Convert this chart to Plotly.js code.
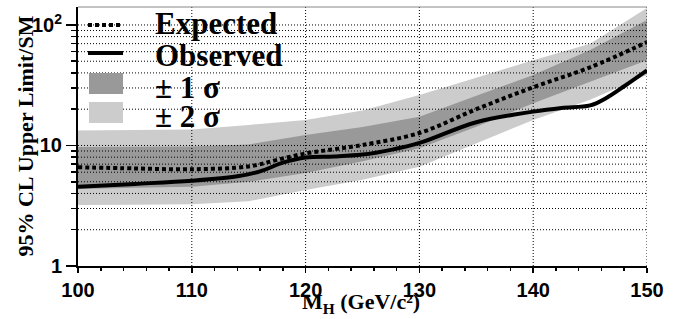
<!DOCTYPE html>
<html>
<head>
<meta charset="utf-8">
<script src="https://cdn.plot.ly/plotly-3.0.1.min.js"></script>
<style>html,body{margin:0;padding:0;background:#fff;}#chart{width:678px;height:319px;}</style>
</head>
<body>
<div id="chart"></div>
<script>
// ---- data ----
var bandMass = [100, 105, 110, 115, 120, 125, 130, 135, 140, 145, 150];
var sigma2Up = [13.3, 13.4, 13.6, 14.8, 16.3, 19.5, 26.2, 36.5, 51, 70, 138];
var sigma1Up = [9.7, 9.7, 9.8, 10.2, 12.2, 14.2, 17.3, 25.8, 38.5, 62, 110];
var sigma1Dn = [4.35, 4.45, 4.55, 5.0, 5.9, 7.4, 9.5, 14.3, 22.4, 33.9, 51];
var sigma2Dn = [3.2, 3.22, 3.25, 3.45, 4.27, 5.2, 6.67, 10.4, 16.3, 23.9, 38.5];

var expMass = [100, 105, 110, 115, 117.5, 120, 122.5, 125, 130, 135, 140, 145, 150];
var expLimit = [6.6, 6.45, 6.35, 6.7, 7.6, 8.6, 9.3, 10.1, 12.7, 20, 30.4, 44.5, 72];

var obsMass = [100, 105, 110, 114, 116, 118, 120, 122.5, 125, 127.5, 130, 135, 140, 142.5, 145, 146.5, 148, 150];
var obsLimit = [4.55, 4.8, 5.1, 5.55, 6.1, 7.2, 7.95, 8.1, 8.4, 9.2, 10.5, 15.6, 19.1, 20.5, 21.5, 25, 31, 42];

var xTickVals = [100, 110, 120, 130, 140, 150];
var xTickText = ['100', '110', '120', '130', '140', '150'];
var yTickVals = [1, 10, 100];
var yTickText = ['1', '10', '10<sup>2</sup>'];
var yMinorVals = [2, 3, 4, 5, 6, 7, 8, 9, 20, 30, 40, 50, 60, 70, 80, 90];
var gridX = [110, 120, 130, 140, 150];
var gridY = [2, 3, 4, 5, 6, 7, 8, 9, 10, 20, 30, 40, 50, 60, 70, 80, 90, 100];
var legendLabels = ['Expected', 'Observed', '\u00B1 1 \u03C3', '\u00B1 2 \u03C3'];
var xTitle = 'M<sub>H</sub> (GeV/c\u00B2)';
var yTitle = '95% CL Upper Limit/SM';

// ---- helpers ----
var xRange = [100, 150];
var yRangeLog = [0, 2.149];
function band(up, dn) {
  return {
    x: bandMass.concat(bandMass.slice().reverse()),
    y: up.concat(dn.slice().reverse())
  };
}
function bold(arr) { return arr.map(function (t) { return '<b>' + t + '</b>'; }); }
var b2 = band(sigma2Up, sigma2Dn);
var b1 = band(sigma1Up, sigma1Dn);

var hx = [], hy = [];
gridY.forEach(function (v) { hx.push(xRange[0], xRange[1], null); hy.push(v, v, null); });
var vx = [], vy = [];
var yLo = Math.pow(10, yRangeLog[0]), yHi = Math.pow(10, yRangeLog[1]);
gridX.forEach(function (v) { vx.push(v, v, null); vy.push(yLo, yHi, null); });

var gridStyle = {color: '#000', width: 1, dash: '1px,2px'};

var traces = [
  {x: b2.x, y: b2.y, type: 'scatter', mode: 'lines', fill: 'toself', fillcolor: '#cccccc',
   line: {width: 0}, name: legendLabels[3], showlegend: false, hoverinfo: 'skip'},
  {x: b1.x, y: b1.y, type: 'scatter', mode: 'lines', fill: 'toself', fillcolor: '#999999',
   line: {width: 0}, name: legendLabels[2], showlegend: false, hoverinfo: 'skip'},
  {x: hx, y: hy, type: 'scatter', mode: 'lines', line: gridStyle, showlegend: false, hoverinfo: 'skip', connectgaps: false},
  {x: vx, y: vy, type: 'scatter', mode: 'lines', line: gridStyle, showlegend: false, hoverinfo: 'skip', connectgaps: false},
  {x: obsMass, y: obsLimit, type: 'scatter', mode: 'lines', name: legendLabels[1],
   line: {color: 'black', width: 4, shape: 'spline', smoothing: 1}, showlegend: false},
  {x: expMass, y: expLimit, type: 'scatter', mode: 'lines', name: legendLabels[0],
   line: {color: 'black', width: 4, dash: '4px,3px', shape: 'spline', smoothing: 1}, showlegend: false}
];

// custom legend and axis titles (positions in paper coordinates)
var legFont = {family: 'Liberation Serif', size: 31, weight: 'bold', color: 'black'};
var titleFont = {family: 'Liberation Serif', size: 22, weight: 'bold', color: 'black'};
var legY = [0.938, 0.811, 0.691, 0.579];
var annotations = legendLabels.map(function (t, i) {
  return {text: '<b>' + t + '</b>', xref: 'paper', yref: 'paper', x: 0.132, y: legY[i], xanchor: 'left', yanchor: 'middle',
          showarrow: false, font: legFont};
});
annotations.push({text: '<b>' + xTitle + '</b>', xref: 'paper', yref: 'paper', x: 0.497, y: -0.203,
                  xanchor: 'center', yanchor: 'bottom', showarrow: false, font: titleFont});
annotations.push({text: '<b>' + yTitle + '</b>', xref: 'paper', yref: 'paper', x: -0.093, y: 0.5, textangle: -90,
                  xanchor: 'center', yanchor: 'middle', showarrow: false, font: titleFont});

var shapes = [
  {type: 'line', xref: 'paper', yref: 'paper', x0: 0, x1: 1, y0: 1, y1: 1, line: {color: '#888', width: 1}},
  {type: 'line', xref: 'paper', yref: 'paper', x0: 0.0176, x1: 0.0791, y0: 0.9305, y1: 0.9305,
   line: {color: 'black', width: 4, dash: '4px,3px'}},
  {type: 'line', xref: 'paper', yref: 'paper', x0: 0.0176, x1: 0.0791, y0: 0.8224, y1: 0.8224,
   line: {color: 'black', width: 4}},
  {type: 'rect', xref: 'paper', yref: 'paper', x0: 0.0193, x1: 0.0791, y0: 0.6641, y1: 0.7452,
   fillcolor: '#999999', line: {width: 0}},
  {type: 'rect', xref: 'paper', yref: 'paper', x0: 0.0193, x1: 0.0791, y0: 0.5521, y1: 0.6332,
   fillcolor: '#cccccc', line: {width: 0}}
];

var tickFont = {family: 'Liberation Sans', size: 20, weight: 'bold', color: 'black'};

var layout = {
  width: 678, height: 319,
  margin: {l: 78, r: 31, t: 7, b: 53},
  paper_bgcolor: 'white', plot_bgcolor: 'white',
  showlegend: false,
  xaxis: {
    range: xRange, showgrid: false, zeroline: false,
    showline: true, linecolor: 'black', linewidth: 2,
    ticks: 'outside', ticklen: 5, tickwidth: 1.5, tickcolor: 'black',
    tickmode: 'array', tickvals: xTickVals, ticktext: bold(xTickText), tickfont: tickFont,
    minor: {dtick: 2, ticks: 'outside', ticklen: 3, tickwidth: 1.5, tickcolor: 'black', showgrid: false},
    automargin: false
  },
  yaxis: {
    type: 'log', range: yRangeLog, showgrid: false, zeroline: false,
    showline: true, linecolor: 'black', linewidth: 2,
    ticks: 'outside', ticklen: 10, tickwidth: 1.5, tickcolor: 'black',
    tickmode: 'array', tickvals: yTickVals, ticktext: bold(yTickText), tickfont: tickFont,
    minor: {tickmode: 'array', tickvals: yMinorVals, ticks: 'outside', ticklen: 5, tickwidth: 1.5, tickcolor: 'black', showgrid: false},
    automargin: false
  },
  annotations: annotations,
  shapes: shapes
};

Plotly.newPlot('chart', traces, layout, {displayModeBar: false, staticPlot: true});
</script>
</body>
</html>
